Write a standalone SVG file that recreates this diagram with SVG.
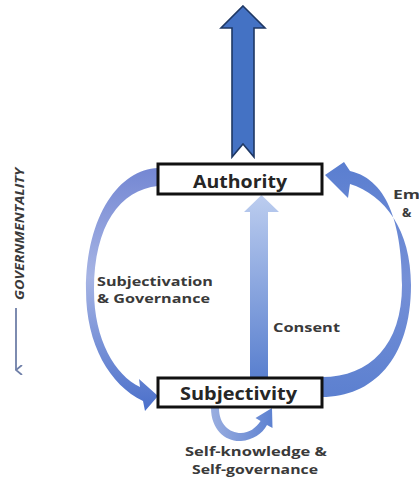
<svg xmlns="http://www.w3.org/2000/svg" width="419" height="480" viewBox="0 0 419 480">
<defs>
<linearGradient id="gLeft" x1="0" y1="168" x2="0" y2="411" gradientUnits="userSpaceOnUse">
<stop offset="0" stop-color="#7487d3"/>
<stop offset="0.45" stop-color="#a6b4e4"/>
<stop offset="1" stop-color="#4a6fca"/>
</linearGradient>
<linearGradient id="gConsent" x1="0" y1="195" x2="0" y2="377" gradientUnits="userSpaceOnUse">
<stop offset="0" stop-color="#bccdef"/>
<stop offset="1" stop-color="#5a80cf"/>
</linearGradient>
<linearGradient id="gRight" x1="0" y1="162" x2="0" y2="397" gradientUnits="userSpaceOnUse">
<stop offset="0" stop-color="#5a7ed0"/>
<stop offset="0.5" stop-color="#7590d7"/>
<stop offset="1" stop-color="#5c80d0"/>
</linearGradient>
<linearGradient id="gLoop" x1="211" y1="0" x2="276" y2="0" gradientUnits="userSpaceOnUse">
<stop offset="0" stop-color="#9aaee0"/>
<stop offset="1" stop-color="#5a7fd0"/>
</linearGradient>
<marker id="vHead" viewBox="0 0 10 10" refX="5" refY="9" markerWidth="10" markerHeight="10" markerUnits="userSpaceOnUse" orient="auto-start-reverse">
<path d="M0,3 L5,9 L10,3" fill="none" stroke="#6f7fa8" stroke-width="1.8"/>
</marker>
<style>
.box{fill:#ffffff;stroke:#111111;stroke-width:3}
.bt{font-family:"Open Sans","Liberation Sans",sans-serif;font-weight:bold;fill:#262626}
.lbl{font-family:"Open Sans","Liberation Sans",sans-serif;font-weight:bold;fill:#3a3a3a;font-size:13px}
</style>
</defs>

<g id="connectors">
<path id="output-arrow" d="M243,6 L265,28 L254,28 L254,157 L243,144 L232,157 L232,28 L221,28 Z" fill="#4472c4" stroke="#1f3864" stroke-width="1.6" stroke-linejoin="miter"/>
<path id="subjectivation-arrow" d="M158,168 C120,169 86,215 86,290 C86,345 110,385 143,401 L145,411 L158,396 L139,379 L140,387 C115,375 94,340 94,290 C94,225 120,190 158,186 Z" fill="url(#gLeft)"/>
<path id="consent-arrow" d="M261.5,195 L279,212 L268,212 L268,377 L250,377 L250,212 L244,212 Z" fill="url(#gConsent)"/>
<path id="empowerment-arrow" d="M322,397 C372,397 411,360 411,285 C411,230 385,195 350,184 L348,198 L325,175 L344,162 L350,171 C390,180 402,230 402,285 C402,345 370,377 322,377 Z" fill="url(#gRight)"/>
<path id="self-arrow" d="M211,408 C211,430 226,442 241,441 C253,440 262,434 267,425 L272.5,428 L272,408 L255.5,418 L260.6,421 C256,428 249,433 241,433 C229,433 219,424 219,408 Z" fill="url(#gLoop)"/>
<line id="governmentality-arrow" x1="16" y1="308" x2="16" y2="370" stroke="#6f7fa8" stroke-width="1.8" marker-end="url(#vHead)"/>
</g>

<g id="authority">
<rect class="box" x="158" y="164" width="164" height="30"/>
<text class="bt" x="240" y="188" font-size="18" text-anchor="middle" textLength="94" lengthAdjust="spacingAndGlyphs">Authority</text>
</g>

<g id="subjectivity">
<rect class="box" x="158" y="378" width="164" height="29"/>
<text class="bt" x="238.5" y="400" font-size="18" text-anchor="middle" textLength="117" lengthAdjust="spacingAndGlyphs">Subjectivity</text>
</g>

<g id="labels">
<text class="lbl" x="97" y="286" textLength="116" lengthAdjust="spacingAndGlyphs">Subjectivation</text>
<text class="lbl" x="97" y="303" textLength="113" lengthAdjust="spacingAndGlyphs">&amp; Governance</text>
<text class="lbl" x="273" y="332" textLength="67" lengthAdjust="spacingAndGlyphs">Consent</text>
<text class="lbl" x="256" y="456" text-anchor="middle" textLength="142" lengthAdjust="spacingAndGlyphs">Self-knowledge &amp;</text>
<text class="lbl" x="255" y="474" text-anchor="middle" textLength="126" lengthAdjust="spacingAndGlyphs">Self-governance</text>
<text class="lbl" x="393" y="199" style="font-size:12.5px" textLength="27" lengthAdjust="spacingAndGlyphs">Em</text>
<text class="lbl" x="402" y="217" style="font-size:12.5px">&amp;</text>
<text class="lbl" font-style="italic" transform="translate(24,300) rotate(-90)" textLength="132" lengthAdjust="spacingAndGlyphs" style="font-size:13px">GOVERNMENTALITY</text>
</g>
</svg>
